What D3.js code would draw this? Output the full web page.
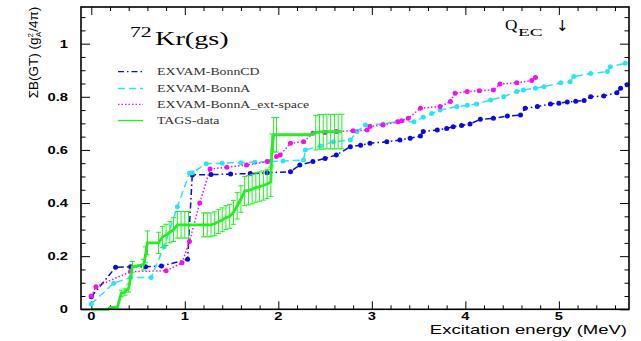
<!DOCTYPE html>
<html>
<head>
<meta charset="utf-8">
<script src="https://d3js.org/d3.v7.min.js"></script>
<style>
  body { margin: 0; background: #fff; }
  svg { display: block; }
</style>
</head>
<body>
<svg id="chart" width="641" height="341"></svg>
<script>
// EXVAM-BonnCD
var cdE = [0.00, 0.26, 0.42, 0.58, 0.75, 1.03, 1.08, 1.28, 1.49, 1.70, 1.88, 2.13, 2.23, 2.37, 2.50, 2.62, 2.77, 2.88, 2.98, 3.16, 3.30, 3.41, 3.52, 3.55, 3.70, 3.80, 3.87, 3.96, 4.05, 4.16, 4.30, 4.45, 4.59, 4.64, 4.77, 4.91, 5.00, 5.09, 5.18, 5.27, 5.34, 5.48, 5.62, 5.66, 5.73];
var cdB = [0.047, 0.158, 0.160, 0.160, 0.163, 0.188, 0.506, 0.507, 0.509, 0.511, 0.514, 0.518, 0.543, 0.556, 0.568, 0.581, 0.612, 0.618, 0.625, 0.631, 0.637, 0.644, 0.652, 0.669, 0.675, 0.681, 0.687, 0.692, 0.698, 0.715, 0.719, 0.728, 0.731, 0.757, 0.763, 0.773, 0.776, 0.780, 0.783, 0.786, 0.800, 0.803, 0.815, 0.832, 0.845];

// EXVAM-BonnA
var aE = [0.00, 0.24, 0.42, 0.64, 0.78, 0.92, 1.05, 1.08, 1.23, 1.40, 1.60, 1.75, 1.91, 2.05, 2.27, 2.29, 2.45, 2.59, 2.77, 2.84, 2.93, 3.12, 3.27, 3.45, 3.55, 3.64, 3.73, 3.91, 4.02, 4.12, 4.27, 4.41, 4.55, 4.62, 4.75, 4.84, 5.02, 5.12, 5.16, 5.34, 5.52, 5.55, 5.71];
var aB = [0.020, 0.098, 0.120, 0.120, 0.236, 0.386, 0.512, 0.514, 0.548, 0.550, 0.552, 0.554, 0.556, 0.558, 0.562, 0.600, 0.615, 0.631, 0.637, 0.669, 0.694, 0.698, 0.706, 0.706, 0.723, 0.737, 0.750, 0.763, 0.768, 0.773, 0.788, 0.800, 0.820, 0.826, 0.832, 0.838, 0.853, 0.857, 0.876, 0.888, 0.895, 0.913, 0.926];

// EXVAM-BonnA_ext-space
var extE = [0.00, 0.05, 0.42, 0.80, 0.97, 1.05, 1.16, 1.27, 1.45, 1.66, 1.88, 1.98, 2.02, 2.13, 2.27, 2.37, 2.50, 2.62, 2.80, 2.95, 2.98, 3.12, 3.28, 3.32, 3.39, 3.52, 3.73, 3.84, 3.89, 4.02, 4.15, 4.30, 4.37, 4.55, 4.71, 4.75];
var extB = [0.050, 0.085, 0.142, 0.145, 0.175, 0.255, 0.400, 0.528, 0.535, 0.543, 0.556, 0.575, 0.581, 0.625, 0.631, 0.663, 0.666, 0.669, 0.672, 0.675, 0.688, 0.694, 0.706, 0.710, 0.719, 0.757, 0.763, 0.782, 0.813, 0.820, 0.823, 0.826, 0.848, 0.853, 0.861, 0.873];

// TAGS-data (cumulative, with errors)
var tagsE = [0.00, 0.18, 0.20, 0.28, 0.32, 0.36, 0.40, 0.44, 0.56, 0.58, 0.60, 0.72, 0.76, 0.80, 0.84, 0.88, 0.92, 0.96, 1.00, 1.04, 1.20, 1.24, 1.28, 1.32, 1.36, 1.40, 1.44, 1.48, 1.52, 1.56, 1.60, 1.64, 1.68, 1.72, 1.76, 1.80, 1.84, 1.88, 1.92, 1.93, 1.95, 1.98, 2.34, 2.40, 2.44, 2.48, 2.52, 2.56, 2.60, 2.64, 2.68];
var tagsB = [0.000, 0.000, 0.006, 0.008, 0.060, 0.065, 0.080, 0.160, 0.168, 0.205, 0.250, 0.250, 0.272, 0.280, 0.290, 0.300, 0.318, 0.318, 0.318, 0.318, 0.318, 0.318, 0.318, 0.322, 0.330, 0.337, 0.345, 0.350, 0.365, 0.390, 0.415, 0.445, 0.448, 0.452, 0.458, 0.462, 0.466, 0.472, 0.480, 0.600, 0.657, 0.657, 0.657, 0.665, 0.668, 0.668, 0.669, 0.669, 0.669, 0.669, 0.669];
var tagsErr = [0, 0, 0, 0, 0.012, 0.012, 0.015, 0.020, 0.020, 0.030, 0.045, 0.040, 0.040, 0.040, 0.040, 0.045, 0.050, 0.050, 0.050, 0.050, 0.045, 0.045, 0.045, 0.045, 0.045, 0.045, 0.045, 0.045, 0.045, 0.050, 0.050, 0.055, 0.055, 0.055, 0.055, 0.055, 0.055, 0.055, 0.055, 0.060, 0.065, 0.065, 0, 0.065, 0.065, 0.065, 0.065, 0.065, 0.065, 0.065, 0.065];

var legendNames = ["EXVAM-BonnCD", "EXVAM-BonnA", "EXVAM-BonnA_ext-space", "TAGS-data"];
var xTicks = [0, 1, 2, 3, 4, 5];
var yTicks = [0, 0.2, 0.4, 0.6, 0.8, 1];

var svg = d3.select("#chart");
var plotL = 81, plotR = 629, plotT = 7, plotB = 309.3;

var x = d3.scaleLinear().domain([-0.11, 5.75]).range([plotL, plotR]);
var y = d3.scaleLinear().domain([0, 1.138]).range([plotB, plotT]);

var zip = (es, bs) => es.map((e, i) => ({e: e, b: bs[i]}));

var series = [
  {pts: zip(cdE, cdB), color: "#0a0adc", dash: "6,3,1.5,3"},
  {pts: zip(aE, aB), color: "#2ae4f2", dash: "7,4"},
  {pts: zip(extE, extB), color: "#f010f0", dash: "1.5,2"}
];
var green = "#22ee22";

var line = d3.line().x(d => x(d.e)).y(d => y(d.b));

// minor tick values
var xMinor = d3.range(0, 5.75, 0.2).filter(v => Math.abs(v - Math.round(v)) > 0.01);
var yMinor = d3.range(0, 1.14, 0.05).filter(v => Math.abs(v * 5 - Math.round(v * 5)) > 0.01);

function axisTicks(axisFn, scale, vals, size, pos) {
  svg.append("g")
    .attr("transform", pos)
    .call(axisFn(scale).tickValues(vals).tickSize(size).tickFormat(""))
    .call(g => g.select(".domain").remove())
    .selectAll("line").attr("stroke", "#000").attr("stroke-width", 1);
}

axisTicks(d3.axisBottom, x, xTicks, -8, `translate(0,${plotB})`);
axisTicks(d3.axisBottom, x, xMinor, -4, `translate(0,${plotB})`);
axisTicks(d3.axisTop, x, xTicks, -8, `translate(0,${plotT})`);
axisTicks(d3.axisTop, x, xMinor, -4, `translate(0,${plotT})`);
axisTicks(d3.axisLeft, y, yTicks, -9, `translate(${plotL},0)`);
axisTicks(d3.axisLeft, y, yMinor, -4.5, `translate(${plotL},0)`);
axisTicks(d3.axisRight, y, yTicks, -9, `translate(${plotR},0)`);
axisTicks(d3.axisRight, y, yMinor, -4.5, `translate(${plotR},0)`);

// tick labels (stretched like the original)
svg.append("g").selectAll("text")
  .data(xTicks).enter().append("text")
    .attr("transform", d => `translate(${x(d)},320) scale(1.4,1)`)
    .attr("text-anchor", "middle")
    .style("font", "bold 10.5px 'Liberation Sans', Arial, sans-serif")
    .text(d => d);

svg.append("g").selectAll("text")
  .data(yTicks).enter().append("text")
    .attr("transform", d => `translate(68,${y(d) + 4}) scale(1.4,1)`)
    .attr("text-anchor", "end")
    .style("font", "bold 10.5px 'Liberation Sans', Arial, sans-serif")
    .text(d3.format("~g"));

// data lines
series.forEach(s => {
  svg.append("path")
    .datum(s.pts)
    .attr("d", line)
    .attr("fill", "none")
    .attr("stroke", s.color)
    .attr("stroke-width", 1.5)
    .attr("stroke-dasharray", s.dash);
  svg.append("g").selectAll("circle")
    .data(s.pts).enter().append("circle")
      .attr("cx", d => x(d.e))
      .attr("cy", d => y(d.b))
      .attr("r", 2.5)
      .attr("fill", s.color);
});

// TAGS error bars
var tags = tagsE.map((e, i) => ({e: e, b: tagsB[i], err: tagsErr[i]}));
var withErr = tags.filter(d => d.err > 0);
var bars = svg.append("g")
  .attr("stroke", green)
  .attr("stroke-width", 1);
bars.selectAll(".ev")
  .data(withErr).enter().append("line")
    .attr("x1", d => x(d.e)).attr("x2", d => x(d.e))
    .attr("y1", d => y(d.b - d.err)).attr("y2", d => y(d.b + d.err));
bars.selectAll(".ct")
  .data(withErr).enter().append("line")
    .attr("x1", d => x(d.e) - 2.5).attr("x2", d => x(d.e) + 2.5)
    .attr("y1", d => y(d.b + d.err)).attr("y2", d => y(d.b + d.err));
bars.selectAll(".cb")
  .data(withErr).enter().append("line")
    .attr("x1", d => x(d.e) - 2.5).attr("x2", d => x(d.e) + 2.5)
    .attr("y1", d => y(d.b - d.err)).attr("y2", d => y(d.b - d.err));

svg.append("path")
  .datum(tags)
  .attr("d", line)
  .attr("fill", "none")
  .attr("stroke", green)
  .attr("stroke-width", 2.8);

// frame
svg.append("rect")
  .attr("x", plotL).attr("y", plotT)
  .attr("width", plotR - plotL).attr("height", plotB - plotT)
  .attr("fill", "none")
  .attr("stroke", "#000")
  .attr("stroke-width", 1.6);

// legend
var legendY = [71.7, 88.5, 104.3, 120.5];
var legendStyle = [
  {color: series[0].color, dash: series[0].dash},
  {color: series[1].color, dash: series[1].dash},
  {color: series[2].color, dash: series[2].dash},
  {color: green, dash: null}
];
legendNames.forEach((name, i) => {
  svg.append("line")
    .attr("x1", 118).attr("x2", 143)
    .attr("y1", legendY[i]).attr("y2", legendY[i])
    .attr("stroke", legendStyle[i].color)
    .attr("stroke-width", 1.3)
    .attr("stroke-dasharray", legendStyle[i].dash);
  svg.append("text")
    .attr("transform", `translate(157,${legendY[i] + 3.5}) scale(1.38,1)`)
    .style("font", "10px 'Liberation Serif', 'Times New Roman', serif")
    .attr("fill", "#333")
    .text(name);
});

// title 72Kr(gs)
svg.append("text")
  .attr("transform", "translate(130,37) scale(1.5,1)")
  .style("font", "14.5px 'Liberation Serif', serif")
  .text("72");
svg.append("text")
  .attr("transform", "translate(155,45) scale(1.45,1)")
  .style("font", "19.5px 'Liberation Serif', serif")
  .text("Kr(gs)");

// Q_EC arrow
svg.append("text")
  .attr("transform", "translate(505,30) scale(1.15,1)")
  .style("font", "15px 'Liberation Serif', serif")
  .text("Q");
svg.append("text")
  .attr("transform", "translate(518,36) scale(1.75,1)")
  .style("font", "11px 'Liberation Serif', serif")
  .text("EC");
svg.append("text")
  .attr("x", 556).attr("y", 31)
  .style("font", "15px 'DejaVu Sans', sans-serif")
  .text("\u2193");

// axis titles
svg.append("text")
  .attr("transform", "translate(627,334) scale(1.48,1)")
  .attr("text-anchor", "end")
  .style("font", "12.5px 'Liberation Sans', Arial, sans-serif")
  .text("Excitation energy (MeV)");

var yl = svg.append("text")
  .attr("transform", "translate(38,52.5) rotate(-90)")
  .attr("text-anchor", "middle")
  .style("font", "13.5px 'Liberation Sans', Arial, sans-serif");
yl.append("tspan").text("\u03a3B(GT) (g");
yl.append("tspan").attr("dy", -5).style("font-size", "8px").text("2");
yl.append("tspan").attr("dx", -4).attr("dy", 8).style("font-size", "8px").text("A");
yl.append("tspan").attr("dy", -3).text("/4\u03c0)");
</script>
</body>
</html>
